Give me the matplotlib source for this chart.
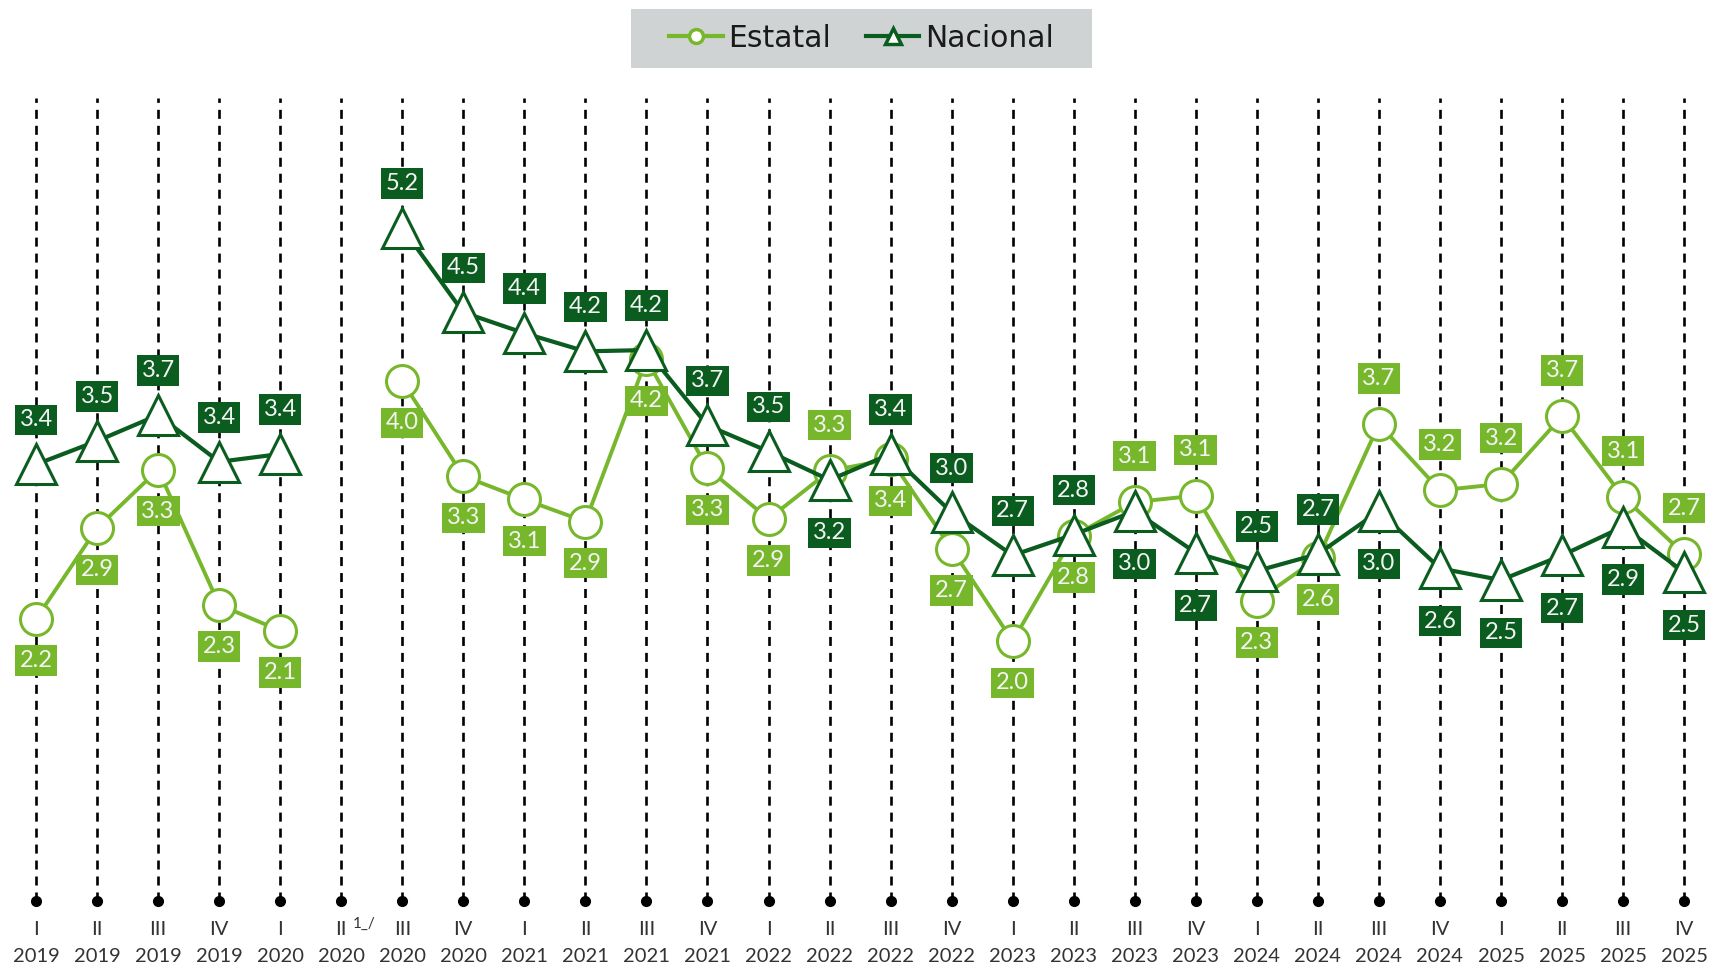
import numpy as np
import matplotlib
matplotlib.use("Agg")
import matplotlib.pyplot as plt
from matplotlib.lines import Line2D
from matplotlib.patches import Rectangle
from matplotlib.transforms import blended_transform_factory

plt.rcParams['font.family'] = ['Lato', 'DejaVu Sans']
plt.rcParams['lines.scale_dashes'] = False

quarters = ["I", "II", "III", "IV", "I", "II", "III", "IV", "I", "II", "III", "IV",
            "I", "II", "III", "IV", "I", "II", "III", "IV", "I", "II", "III", "IV",
            "I", "II", "III", "IV"]
years = ["2019"] * 4 + ["2020"] * 4 + ["2021"] * 4 + ["2022"] * 4 + ["2023"] * 4 + \
        ["2024"] * 4 + ["2025"] * 4
footnote_idx = 5
footnote_txt = "1_/"

nan = np.nan
estatal = [2.17, 2.87, 3.32, 2.28, 2.08, nan, 4.00, 3.27, 3.09, 2.92, 4.17, 3.33,
           2.94, 3.31, 3.40, 2.71, 2.00, 2.81, 3.07, 3.12, 2.31, 2.64, 3.67, 3.16,
           3.21, 3.73, 3.11, 2.67]
nacional = [3.36, 3.54, 3.74, 3.38, 3.44, nan, 5.18, 4.53, 4.37, 4.23, 4.24, 3.66,
            3.46, 3.24, 3.44, 2.99, 2.66, 2.82, 3.00, 2.68, 2.54, 2.67, 3.00, 2.56,
            2.47, 2.66, 2.88, 2.53]

LG = "#77b72b"
DG = "#0a5c1f"
YMAX = 6.18

fig = plt.figure(figsize=(17.11, 9.68), dpi=100)
ax = fig.add_axes([0, 0.0692, 1, 0.8296])
ax.set_xlim(-0.59, 27.44)
ax.set_ylim(0, YMAX)
ax.axis('off')

n = len(quarters)
x = np.arange(n)
est = np.array(estatal)
nac = np.array(nacional)

ax.vlines(x, 0, YMAX, colors='black', linewidth=1.9,
          linestyles=[(0, (6.5, 5.0))], zorder=1)
ax.plot(x, np.zeros(n), 'o', color='black', ms=7, clip_on=False, zorder=2)

ax.plot(x, est, color=LG, lw=2.8, marker='o', ms=23, mfc='white', mec=LG,
        mew=2.2, zorder=3, clip_on=False)
ax.plot(x, nac, color=DG, lw=3.0, marker='^', ms=29, mfc='white', mec=DG,
        mew=2.2, zorder=4, clip_on=False)

for i in range(n):
    if np.isnan(est[i]):
        continue
    est_up = est[i] > nac[i]
    ax.annotate(f"{est[i]:.1f}", (x[i], est[i]),
                xytext=(0, 33 if est_up else -30), textcoords='offset points',
                ha='center', va='center', fontsize=17, color='#f4f4f4', zorder=6,
                bbox=dict(boxstyle='square,pad=0.2', fc=LG, ec='none'))
    ax.annotate(f"{nac[i]:.1f}", (x[i], nac[i]),
                xytext=(0, -38 if est_up else 32), textcoords='offset points',
                ha='center', va='center', fontsize=17, color='#f4f4f4', zorder=6,
                bbox=dict(boxstyle='square,pad=0.2', fc=DG, ec='none'))

trans = blended_transform_factory(ax.transData, fig.transFigure)
for i in range(n):
    ax.text(x[i], 0.0393, quarters[i], transform=trans, ha='center', va='center',
            fontsize=14.5, color='#333333')
    ax.text(x[i], 0.0114, years[i], transform=trans, ha='center', va='center',
            fontsize=14.5, color='#333333')
ax.annotate(footnote_txt, (footnote_idx, 0.0455), xycoords=trans,
            xytext=(8, 0), textcoords='offset points', ha='left', va='center',
            fontsize=11, color='#333333')

# legend background box
fig.patches.append(Rectangle((631 / 1711, 1 - 67.7 / 968), 461 / 1711, 59 / 968,
                             transform=fig.transFigure, fc='#d0d3d4', ec='none',
                             zorder=0))
handles = [
    Line2D([], [], color=LG, lw=3, marker='o', ms=10, mfc='white', mec=LG, mew=2.5),
    Line2D([], [], color=DG, lw=3, marker='^', ms=11, mfc='white', mec=DG, mew=2.5),
]
leg = fig.legend(handles, ["Estatal", "Nacional"], loc='center',
                 bbox_to_anchor=(0.5035, 0.9607), bbox_transform=fig.transFigure,
                 ncol=2, frameon=False, handlelength=1.8,
                 handletextpad=0.2, columnspacing=1.15, borderpad=0.0,
                 borderaxespad=0, prop={'family': 'DejaVu Sans', 'size': 21.5})
for t in leg.get_texts():
    t.set_color('#1a1a1a')

fig.savefig("out.png", dpi=100)
